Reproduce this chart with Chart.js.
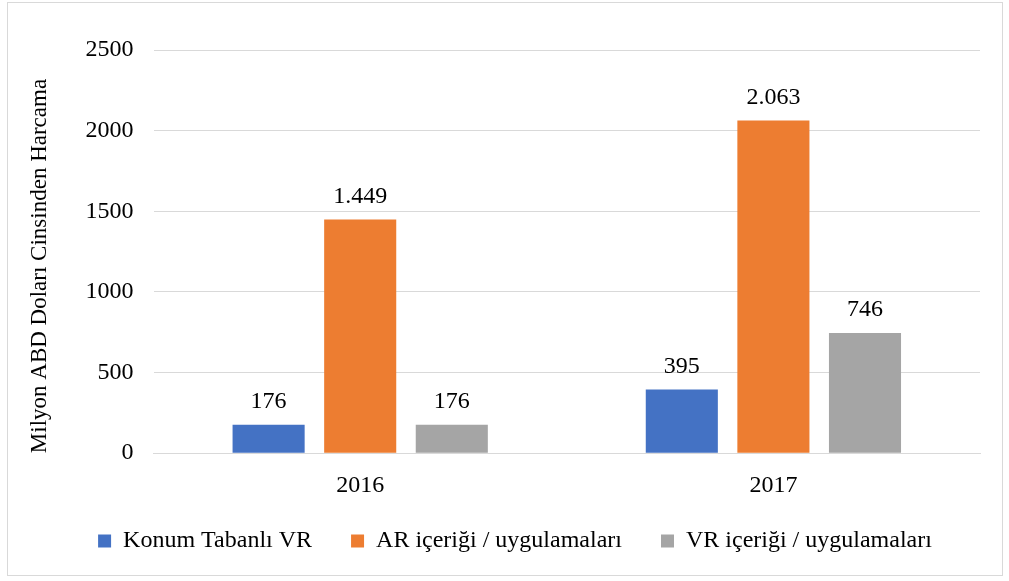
<!DOCTYPE html>
<html>
<head>
<meta charset="utf-8">
<script src="https://cdn.jsdelivr.net/npm/chart.js@4"></script>
<style>
  body { margin: 0; background: #fff; }
  #wrap { position: absolute; left: 7px; top: 2px; width: 994px; height: 572px; border: 1px solid #d9d9d9; }
</style>
</head>
<body>
<div id="wrap"><canvas id="canvas"></canvas></div>
<script>
const years = ['2016', '2017'];
const konumVR = [176, 395];
const arIcerik = [1449, 2063];
const vrIcerik = [176, 746];
const seriesNames = ['Konum Tabanlı VR', 'AR içeriği / uygulamaları', 'VR içeriği / uygulamaları'];
const yTicks = [0, 500, 1000, 1500, 2000, 2500];

const serif = "'Liberation Serif', 'Times New Roman', serif";
const fontSize = 24;

// 1449 -> "1.449"
function trFormat(v) {
  return String(v).replace(/\B(?=(\d{3})+(?!\d))/g, '.');
}

const valueLabels = {
  id: 'valueLabels',
  afterDatasetsDraw(chart) {
    const c = chart.ctx;
    c.save();
    c.font = fontSize + 'px ' + serif;
    c.fillStyle = '#000';
    c.textAlign = 'center';
    c.textBaseline = 'middle';
    chart.data.datasets.forEach((ds, i) => {
      chart.getDatasetMeta(i).data.forEach((bar, j) => {
        c.fillText(trFormat(ds.data[j]), bar.x, bar.y - 23);
      });
    });
    c.restore();
  }
};

// x axis box was shrunk in afterFit, give the labels their room back so they are not clipped
// and nudge the legend row a bit to the right
const tweakLayout = {
  id: 'tweakLayout',
  afterLayout(chart) {
    const x = chart.scales.x;
    x.bottom += 20;
    x.height += 20;
    chart.legend.left += 12;
    chart.legend.right += 12;
  }
};

const ctx = document.getElementById('canvas');

new Chart(ctx, {
  type: 'bar',
  data: {
    labels: years,
    datasets: [
      { label: seriesNames[0], data: konumVR, backgroundColor: '#4472c4' },
      { label: seriesNames[1], data: arIcerik, backgroundColor: '#ed7d31' },
      { label: seriesNames[2], data: vrIcerik, backgroundColor: '#a5a5a5' }
    ]
  },
  options: {
    responsive: true,
    maintainAspectRatio: false,
    animation: false,
    layout: { padding: { left: 18, right: 22, top: 47, bottom: 12 } },
    datasets: { bar: { categoryPercentage: 0.665, barPercentage: 0.787 } },
    scales: {
      x: {
        grid: { display: false },
        border: { display: true, color: '#d9d9d9' },
        ticks: { color: '#000', font: { family: serif, size: fontSize }, padding: 10 },
        afterFit(axis) { axis.height -= 20; }
      },
      y: {
        min: 0,
        max: 2500,
        afterBuildTicks(axis) { axis.ticks = yTicks.map(v => ({ value: v })); },
        grid: { color: '#d9d9d9', drawTicks: false },
        border: { display: false },
        ticks: {
          color: '#000',
          font: { family: serif, size: fontSize },
          padding: 20,
          callback: v => String(v)
        },
        title: {
          display: true,
          text: 'Milyon ABD Doları Cinsinden Harcama',
          align: 'start',
          color: '#000',
          font: { family: serif, size: 23 },
          padding: { top: 0, bottom: 12 }
        }
      }
    },
    plugins: {
      legend: {
        position: 'bottom',
        labels: {
          color: '#000',
          font: { family: serif, size: fontSize },
          boxWidth: 13,
          boxHeight: 13,
          padding: 39
        }
      },
      tooltip: { enabled: false }
    }
  },
  plugins: [valueLabels, tweakLayout]
});
</script>
</body>
</html>
